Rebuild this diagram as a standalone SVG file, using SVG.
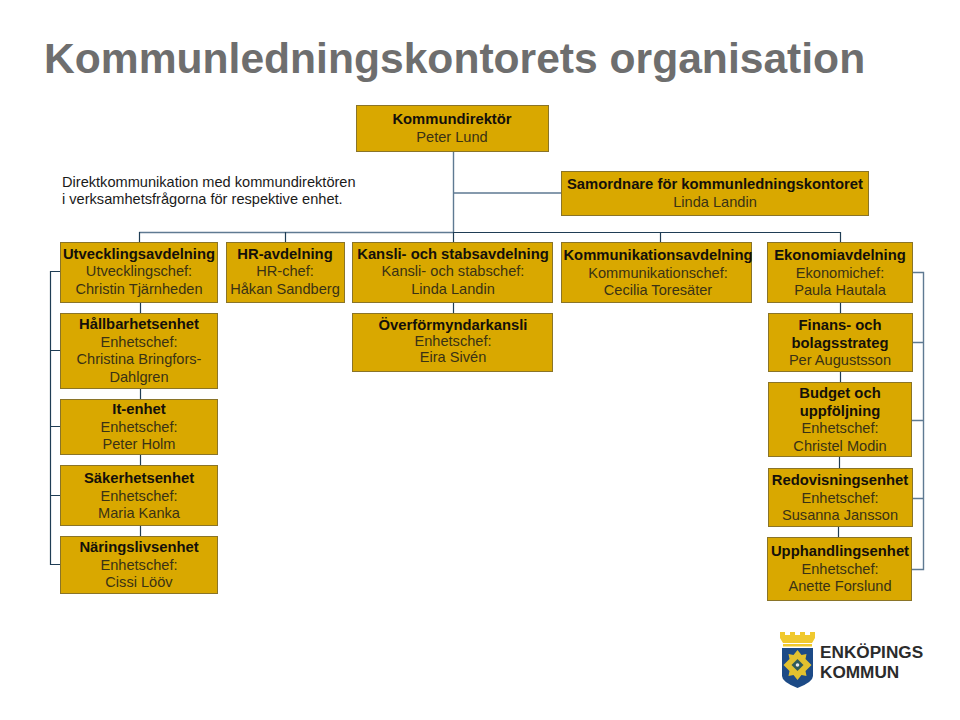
<svg xmlns="http://www.w3.org/2000/svg" width="960" height="720" viewBox="0 0 960 720">
<style>
text{font-family:"Liberation Sans",Arial,sans-serif;font-size:14.6px;fill:#3a3215;text-anchor:middle}
.b{font-weight:bold;font-size:14.8px;fill:#14100a}
.box{fill:#d9a800;stroke:#8a7428;stroke-width:1}
.c{fill:none;stroke:#1f3d55;stroke-width:1.2}
.c2{fill:none;stroke:#5f7a92;stroke-width:1.4}
.note{text-anchor:start;fill:#1a1a1a}
.logot{font-size:17.2px;font-weight:bold;fill:#2b2b2b;text-anchor:start}
</style>
<rect width="960" height="720" fill="#fff"/>
<text x="44" y="73" style="font-size:42.6px;font-weight:bold;fill:#6e6e6e;text-anchor:start">Kommunledningskontorets organisation</text>
<g id="note"><text class="note" x="62" y="187">Direktkommunikation med kommundirektören</text><text class="note" x="62" y="204">i verksamhetsfrågorna för respektive enhet.</text></g>
<g id="connectors">
<path class="c2" d="M453.500 151V232M453.500 193H561M139 232.500H453.500"/>
<path class="c" d="M453.500 232.500H840M139.500 232V242M285.500 232V242M453.500 232V242M660.500 232V242M840.500 232V242"/>
<path class="c" d="M140.500 302V313M140.500 388V399M140.500 454V465M140.500 525V536M453.500 302V313M840.500 302V313M840.500 371V382M839.500 456V468M838.500 526V537"/>
<path class="c" d="M60 271.500H50.500V564.500H60M50 350.500H60M50 426.500H60M50 495.500H60"/>
<path class="c2" d="M912 272.500H923.500V569.500H911M912 342.500H923M911 420.500H923M912 498.500H923"/>
</g>
<g id="n-kommundirektor"><rect class="box" x="356.500" y="105.500" width="192" height="46"/><text class="b" x="452" y="124">Kommundirektör</text><text x="452" y="142">Peter Lund</text></g>
<g id="n-samordnare"><rect class="box" x="561.500" y="171.500" width="307" height="44"/><text class="b" x="715" y="189">Samordnare för kommunledningskontoret</text><text x="715" y="207">Linda Landin</text></g>
<g id="n-utveckling"><rect class="box" x="60.500" y="242.500" width="157" height="60"/><text class="b" x="139" y="259">Utvecklingsavdelning</text><text x="139" y="276">Utvecklingschef:</text><text x="139" y="294">Christin Tjärnheden</text></g>
<g id="n-hr"><rect class="box" x="226.500" y="242.500" width="118" height="60"/><text class="b" x="285" y="259">HR-avdelning</text><text x="285" y="276">HR-chef:</text><text x="285" y="294">Håkan Sandberg</text></g>
<g id="n-kansli"><rect class="box" x="352.500" y="242.500" width="200" height="60"/><text class="b" x="453" y="259">Kansli- och stabsavdelning</text><text x="453" y="276">Kansli- och stabschef:</text><text x="453" y="294">Linda Landin</text></g>
<g id="n-kommunikation"><rect class="box" x="561.500" y="242.500" width="190" height="60"/><text class="b" x="658" y="260">Kommunikationsavdelning</text><text x="658" y="278">Kommunikationschef:</text><text x="658" y="295">Cecilia Toresäter</text></g>
<g id="n-ekonomi"><rect class="box" x="767.500" y="242.500" width="145" height="60"/><text class="b" x="840" y="260">Ekonomiavdelning</text><text x="840" y="278">Ekonomichef:</text><text x="840" y="295">Paula Hautala</text></g>
<g id="n-hallbarhet"><rect class="box" x="60.500" y="313.500" width="157" height="75"/><text class="b" x="139" y="329">Hållbarhetsenhet</text><text x="139" y="347">Enhetschef:</text><text x="139" y="364">Christina Bringfors-</text><text x="139" y="382">Dahlgren</text></g>
<g id="n-it"><rect class="box" x="60.500" y="399.500" width="157" height="55"/><text class="b" x="139" y="414">It-enhet</text><text x="139" y="432">Enhetschef:</text><text x="139" y="449">Peter Holm</text></g>
<g id="n-sakerhet"><rect class="box" x="60.500" y="465.500" width="157" height="60"/><text class="b" x="139" y="483">Säkerhetsenhet</text><text x="139" y="501">Enhetschef:</text><text x="139" y="518">Maria Kanka</text></g>
<g id="n-naringsliv"><rect class="box" x="60.500" y="536.500" width="157" height="57"/><text class="b" x="139" y="552">Näringslivsenhet</text><text x="139" y="570">Enhetschef:</text><text x="139" y="587">Cissi Lööv</text></g>
<g id="n-overformyndar"><rect class="box" x="352.500" y="313.500" width="200" height="58"/><text class="b" x="453" y="330">Överförmyndarkansli</text><text x="453" y="346">Enhetschef:</text><text x="453" y="362">Eira Sivén</text></g>
<g id="n-finans"><rect class="box" x="768.500" y="313.500" width="144" height="58"/><text class="b" x="840" y="330">Finans- och</text><text class="b" x="840" y="348">bolagsstrateg</text><text x="840" y="365">Per Augustsson</text></g>
<g id="n-budget"><rect class="box" x="768.500" y="382.500" width="143" height="74"/><text class="b" x="840" y="398">Budget och</text><text class="b" x="840" y="416">uppföljning</text><text x="840" y="433">Enhetschef:</text><text x="840" y="451">Christel Modin</text></g>
<g id="n-redovisning"><rect class="box" x="768.500" y="468.500" width="144" height="58"/><text class="b" x="840" y="485">Redovisningsenhet</text><text x="840" y="503">Enhetschef:</text><text x="840" y="520">Susanna Jansson</text></g>
<g id="n-upphandling"><rect class="box" x="767.500" y="537.500" width="144" height="63"/><text class="b" x="840" y="556">Upphandlingsenhet</text><text x="840" y="574">Enhetschef:</text><text x="840" y="591">Anette Forslund</text></g>
<g id="logo">
<path d="M780 632h5v3h5v-3h5v3h5v-3h5v3h5v-3h5v6l-3 5h-29l-3-5z" fill="#f0c92e"/>
<rect x="783" y="644" width="29" height="2.500" fill="#f0c92e"/>
<path d="M782 648h31v28q0 6-15.500 12q-15.500-6-15.500-12z" fill="#1c4a86"/>
<path d="M797.500 650l4 5 5-1-1 5 6 6-6 6 1 5-5-1-4 5-4-5-5 1 1-5-6-6 6-6-1-5 5 1z" fill="#e2c12f"/>
<path d="M797.500 659l6 6-6 6-6-6z" fill="#2f5a5a"/>
<circle cx="797.500" cy="665" r="1.800" fill="#e8e8e8"/>
<text class="logot" x="820" y="658">ENKÖPINGS</text>
<text class="logot" x="820" y="678">KOMMUN</text>
</g>
</svg>
